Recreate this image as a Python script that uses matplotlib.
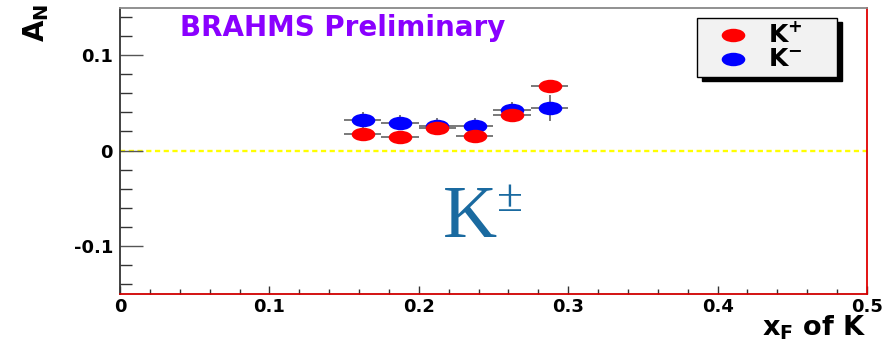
import numpy as np
import matplotlib.pyplot as plt
from matplotlib.path import Path
from matplotlib.patches import Rectangle
from matplotlib.ticker import MultipleLocator

# BRAHMS preliminary A_N for kaons vs x_F
xf = [0.1625, 0.1875, 0.2125, 0.2375, 0.2625, 0.2875]
xf_err = [0.0125, 0.0125, 0.0125, 0.0125, 0.0125, 0.0125]
an_kplus = [0.017, 0.0145, 0.024, 0.015, 0.037, 0.068]
an_kplus_err = [0.006, 0.006, 0.006, 0.006, 0.006, 0.006]
an_kminus = [0.032, 0.029, 0.026, 0.026, 0.043, 0.045]
an_kminus_err = [0.0084, 0.008, 0.008, 0.008, 0.008, 0.0136]
series_labels = [r'K$^{+}$', r'K$^{-}$']
series_colors = ['#ff0000', '#0000ff']

plt.rcParams['font.family'] = ['DejaVu Sans']
plt.rcParams['font.weight'] = 'bold'
plt.rcParams['mathtext.fontset'] = 'custom'
plt.rcParams['mathtext.rm'] = 'DejaVu Sans:bold'
plt.rcParams['mathtext.it'] = 'DejaVu Sans:bold'
plt.rcParams['mathtext.bf'] = 'DejaVu Sans:bold'

# stretched (elliptic) marker like the scaled ROOT picture
circ = Path.unit_circle()
ell = Path(circ.vertices * np.array([1.0, 0.57]), circ.codes)

W, H = 895, 340
fig = plt.figure(figsize=(W/100, H/100), dpi=100)
ax = fig.add_axes([120/W, 1-293.5/H, 747/W, 286/H])

def px(x, y):
    # pixel position (from top-left) -> axes fraction
    return (x-120)/747, (293.5-y)/286

ax.axhline(0, color='#ffff00', lw=1.7, ls=(0, (2.2, 1.5)), zorder=1)

ax.errorbar(xf, an_kminus, xerr=xf_err, yerr=an_kminus_err, fmt='none',
            ecolor='#555555', elinewidth=1.1, zorder=3)
ax.errorbar(xf, an_kplus, xerr=xf_err, yerr=an_kplus_err, fmt='none',
            ecolor='#555555', elinewidth=1.1, zorder=3)
ax.plot(xf, an_kminus, ls='none', marker=ell, ms=17, mec='none', color=series_colors[1], zorder=4)
ax.plot(xf, an_kplus, ls='none', marker=ell, ms=17, mec='none', color=series_colors[0], zorder=5)

ax.set_xlim(0, 0.5)
ax.set_ylim(-0.15, 0.15)
ax.xaxis.set_minor_locator(MultipleLocator(0.02))
ax.yaxis.set_minor_locator(MultipleLocator(0.02))
ax.set_xticks([0, 0.1, 0.2, 0.3, 0.4, 0.5])
ax.set_xticklabels(['0', '0.1', '0.2', '0.3', '0.4', '0.5'])
ax.set_yticks([-0.1, 0, 0.1])
ax.set_yticklabels(['-0.1', '0', '0.1'])

ax.tick_params(axis='x', which='major', direction='in', length=6, width=1, color='#333333',
               labelsize=13, pad=3)
ax.tick_params(axis='x', which='minor', direction='in', length=3.5, width=1, color='#333333')
ax.tick_params(axis='y', which='major', direction='in', length=16.5, width=1, color='#555555',
               labelsize=13, pad=5)
ax.tick_params(axis='y', which='minor', direction='in', length=8.5, width=1, color='#333333')
for lab in ax.get_xticklabels() + ax.get_yticklabels():
    lab.set_fontweight('bold')

ax.spines['left'].set_color('#333333')
ax.spines['top'].set_color('#888888')
ax.spines['right'].set_color('#e00000')
ax.spines['bottom'].set_color('#d00000')
for s in ax.spines.values():
    s.set_linewidth(1.3)

ax.text(*px(180, 28), 'BRAHMS Preliminary', transform=ax.transAxes, color='#8a00ff',
        fontsize=20, fontweight='bold', ha='left', va='center')

ax.text(*px(443, 237), 'K', transform=ax.transAxes, color='#1a6aa0', fontsize=54,
        family='Liberation Serif', fontweight='normal', ha='left', va='baseline')
ax.text(*px(497, 221), '\u00b1', transform=ax.transAxes, color='#1a6aa0', fontsize=34,
        family='Liberation Serif', fontweight='normal', ha='left', va='bottom')

fig.text(36/W, 1-4/H, r'A$_{\rm N}$', rotation=90, fontsize=20, fontweight='bold',
         ha='center', va='top')
fig.text(867/W, 1-335/H, r'x$_{\rm F}$ of K', fontsize=19.5, fontweight='bold',
         ha='right', va='baseline')

# legend box drawn by hand (ROOT style with black shadow)
x0, y0 = px(697, 77)
x1, y1 = px(837, 18)
sx, sy = 5/747, 4/286
ax.add_patch(Rectangle((x0+sx, y0-sy), x1-x0, y1-y0, transform=ax.transAxes,
                       facecolor='black', edgecolor='black', clip_on=False, zorder=6))
ax.add_patch(Rectangle((x0, y0), x1-x0, y1-y0, transform=ax.transAxes,
                       facecolor='#f2f2f2', edgecolor='black', lw=1.0, clip_on=False, zorder=7))
for (lab, col, yy) in zip(series_labels, series_colors, [35, 59]):
    ax.plot(*px(733, yy), transform=ax.transAxes, marker=ell, ms=17, mec='none',
            color=col, ls='none', clip_on=False, zorder=8)
    ax.text(*px(768, yy), lab, transform=ax.transAxes, fontsize=18, fontweight='bold',
            ha='left', va='center', zorder=9)

fig.savefig('out.png', dpi=100)
